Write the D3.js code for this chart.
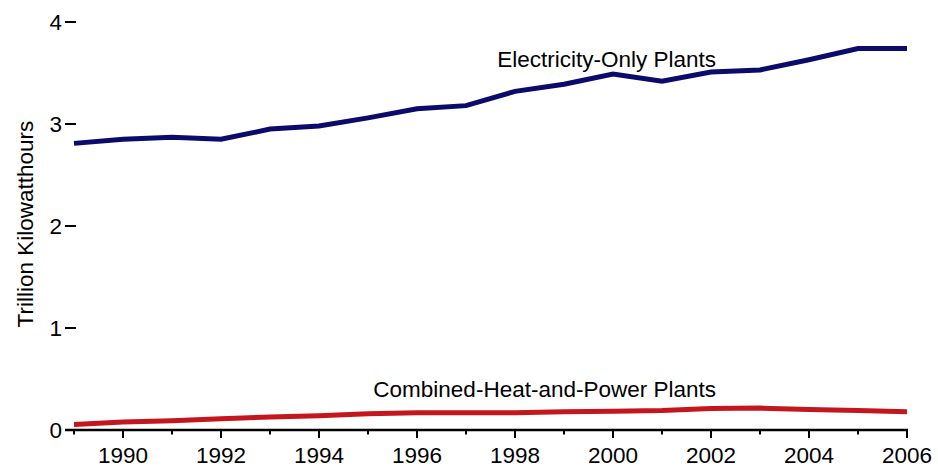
<!DOCTYPE html>
<html><head><meta charset="utf-8">
<script src="https://cdn.jsdelivr.net/npm/d3@7"></script>
<style>
body{margin:0;background:#fff;}
text{font-family:"Liberation Sans",Arial,sans-serif;}
</style></head>
<body><svg id="c" width="938" height="467"></svg>
<script>
const years = [1989,1990,1991,1992,1993,1994,1995,1996,1997,1998,1999,2000,2001,2002,2003,2004,2005,2006];
const electricityOnly = [2.81,2.85,2.87,2.85,2.95,2.98,3.06,3.15,3.18,3.32,3.39,3.49,3.42,3.51,3.53,3.63,3.74,3.74];
const chp = [0.055,0.078,0.09,0.11,0.127,0.14,0.16,0.17,0.17,0.17,0.18,0.185,0.19,0.21,0.215,0.20,0.19,0.18];
const yTicks = [0,1,2,3,4];
const xLabelYears = [1990,1992,1994,1996,1998,2000,2002,2004,2006];
const seriesLabels = ["Electricity-Only Plants","Combined-Heat-and-Power Plants"];
const yTitle = "Trillion Kilowatthours";

const svg = d3.select("#c");
const x = d3.scaleLinear().domain([1989,2006]).range([74,907]);
const y = d3.scaleLinear().domain([0,4]).range([430,22]);
const fs = 22.5;

// y axis ticks
const ya = svg.append("g");
yTicks.forEach(t=>{
  ya.append("line").attr("x1",65).attr("x2",76).attr("y1",y(t)).attr("y2",y(t))
    .attr("stroke","#000").attr("stroke-width",2);
  ya.append("text").attr("x",62).attr("y",y(t)).attr("dy","0.36em")
    .attr("text-anchor","end").attr("font-size",fs).text(t);
});
// y title
svg.append("text").attr("transform",`translate(33,224) rotate(-90)`)
  .attr("text-anchor","middle").attr("font-size",fs).text(yTitle);

// x axis
const xa = svg.append("g");
xa.append("line").attr("x1",65).attr("x2",x(2006)+1).attr("y1",y(0)).attr("y2",y(0))
  .attr("stroke","#000").attr("stroke-width",2.5);
years.forEach(yr=>{
  const major = yr%2===0;
  xa.append("line").attr("x1",x(yr)).attr("x2",x(yr)).attr("y1",y(0))
    .attr("y2",y(0)+(major?8:4.5)).attr("stroke","#000").attr("stroke-width",2);
});
xLabelYears.forEach(yr=>{
  xa.append("text").attr("x",x(yr)).attr("y",463).attr("text-anchor","middle")
    .attr("font-size",fs).text(yr);
});

const line = d3.line().x((d,i)=>x(years[i])).y(d=>y(d));
svg.append("path").datum(electricityOnly).attr("d",line).attr("fill","none")
  .attr("stroke","#0b0b6b").attr("stroke-width",5).attr("stroke-linejoin","miter");
svg.append("path").datum(chp).attr("d",line).attr("fill","none")
  .attr("stroke","#c4161c").attr("stroke-width",5);

svg.append("text").attr("x",716).attr("y",67).attr("text-anchor","end").attr("font-size",fs).text(seriesLabels[0]);
svg.append("text").attr("x",716).attr("y",397).attr("text-anchor","end").attr("font-size",fs).text(seriesLabels[1]);
</script></body></html>
